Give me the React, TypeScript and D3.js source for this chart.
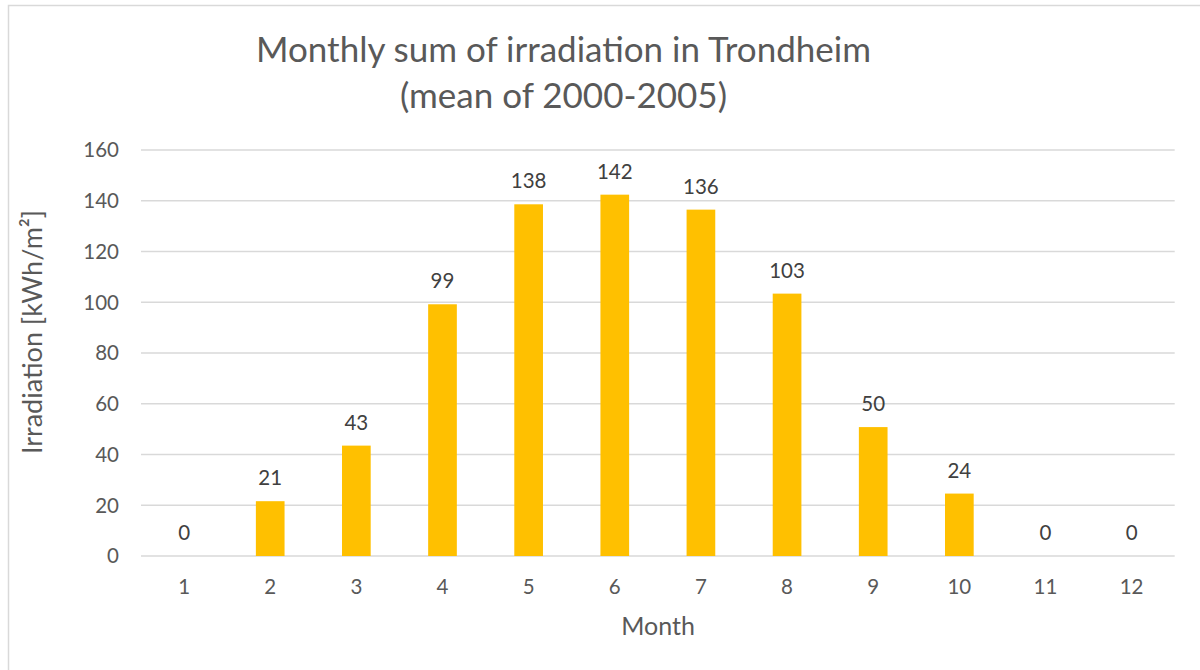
import React from "react";
import * as d3 from "d3";

const months = [1, 2, 3, 4, 5, 6, 7, 8, 9, 10, 11, 12];
const irradiation = [0, 21.6, 43.5, 99.2, 138.6, 142.4, 136.5, 103.4, 50.8, 24.6, 0, 0];
const yTicks = [0, 20, 40, 60, 80, 100, 120, 140, 160];
const titleLines = ["Monthly sum of irradiation in Trondheim", "(mean of 2000-2005)"];
const xTitle = "Month";
const yTitle = "Irradiation [kWh/m²]";

const W = 1200;
const H = 670;
const FONT = "Lato, 'Open Sans', sans-serif";
const TEXT = "#595959";
const GRID = "#d9d9d9";
const BAR = "#FFC000";

export default function App() {
  const x = d3
    .scaleBand<number>()
    .domain(months)
    .range([141, 1174.7])
    .paddingInner(0.667)
    .paddingOuter(0.3335);
  const y = d3.scaleLinear().domain([0, 160]).range([556, 150]);

  return (
    <svg
      width={W}
      height={H}
      style={{ position: "absolute", left: 0, top: 0, background: "#fff" }}
      fontFamily={FONT}
    >
      <rect x={8.5} y={5.5} width={W + 20} height={H + 20} fill="#fff" stroke={GRID} strokeWidth={1.5} />
      {titleLines.map((t, i) => (
        <text key={t} x={563.5} y={62 + i * 46} textAnchor="middle" fontSize={35} fill={TEXT}>
          {t}
        </text>
      ))}
      {yTicks.map((t) => (
        <g key={t}>
          <line x1={141} x2={1174.7} y1={y(t)} y2={y(t)} stroke={GRID} strokeWidth={1.5} />
          <text x={119} y={y(t)} dy="0.36em" textAnchor="end" fontSize={20.5} fill={TEXT}>
            {t}
          </text>
        </g>
      ))}
      {months.map((m, i) => {
        const v = irradiation[i];
        const bx = x(m)!;
        const bw = x.bandwidth();
        return (
          <g key={m}>
            {v > 0 && <rect x={bx} y={y(v)} width={bw} height={y(0) - y(v)} fill={BAR} />}
            <text x={bx + bw / 2} y={y(v) - 16} textAnchor="middle" fontSize={20.5} fill="#404040">
              {Math.floor(v)}
            </text>
            <text x={bx + bw / 2} y={594} textAnchor="middle" fontSize={20.5} fill={TEXT}>
              {m}
            </text>
          </g>
        );
      })}
      <text x={658} y={635} textAnchor="middle" fontSize={25} fill={TEXT}>
        {xTitle}
      </text>
      <text
        transform={`translate(42, ${332}) rotate(-90)`}
        textAnchor="middle"
        fontSize={27}
        fill={TEXT}
      >
        {yTitle}
      </text>
    </svg>
  );
}
